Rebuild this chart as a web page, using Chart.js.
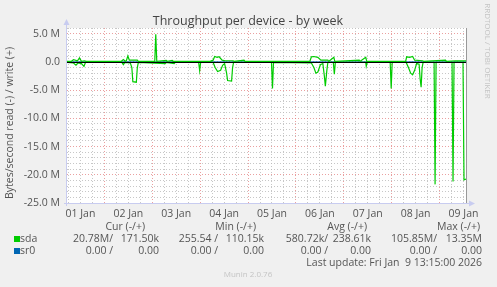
<!DOCTYPE html>
<html>
<head>
<meta charset="utf-8">
<script src="https://cdn.jsdelivr.net/npm/chart.js@4"></script>
<style>
  html, body { margin: 0; padding: 0; background: #f0f0f0; }
  #wrap { width: 497px; height: 287px; }
</style>
</head>
<body>
<div id="wrap"><canvas id="grafico" width="497" height="287"></canvas></div>
<script>
// horas contadas desde 01 Jan 00:00, valores em MB/s
const inicio = 5.25
const fim = 205.25
const diasLabels = ['01 Jan', '02 Jan', '03 Jan', '04 Jan', '05 Jan', '06 Jan', '07 Jan', '08 Jan', '09 Jan']

// sda escrita (+)
const escritaHoras = [5.25, 7.5, 8.5, 10.5, 11.5, 12.5, 14, 15, 32.5, 33.5, 34.5, 35, 35.75, 36.5, 37, 40.5, 41,
  49.25, 49.75, 50.25, 55, 55.5, 58, 58.5, 77, 78.5, 79.25, 80.5, 81.5, 83, 84.5, 88.5, 89, 94, 94.5, 95,
  127, 127.75, 129, 131, 132.5, 136, 136.5, 139, 139.5, 140, 151.75, 152.25, 155, 155.5, 175, 175.5, 177,
  178.5, 179.5, 183.5, 184, 195, 195.5, 200, 205.25]
const escritaValores = [0.1, 0.1, 0.4, 0.2, 0.7, 0.1, 0.2, 0.1, 0.1, 0.4, 0.1, 0.2, 1.05, 0.3, 0.3, 0.3, 0.1,
  0.1, 4.9, 0.1, 0.25, 0.1, 0.25, 0.1, 0.1, 0.3, 0.95, 0.8, 0.9, 0.3, 0.2, 0.2, 0.1, 0.3, 0.1, 0.1,
  0.1, 0.9, 0.95, 0.8, 0.3, 0.3, 0.1, 0.8, 0.1, 0.1, 0.3, 0.1, 0.8, 0.1, 0.1, 0.9, 0.8,
  0.95, 0.3, 0.2, 0.1, 0.3, 0.1, 0.2, 0.17]

// sda leitura (-)
const leituraHoras = [5.25, 8.5, 9.75, 10.75, 12.5, 13.75, 14.5, 32.75, 33.5, 34.25, 37, 37.75, 38.25, 40, 40.5, 41,
  54.5, 55, 59, 59.5, 71.25, 71.75, 72.25, 78.5, 79.5, 80.75, 82.25, 83.25, 84.25, 85.25, 85.75, 87.75, 88.25, 88.75,
  107.75, 108.25, 108.75, 127.75, 129, 130, 131, 132.25, 133.5, 134.25, 134.75, 135.5, 136,
  138.75, 139.25, 139.75, 155, 155.25, 155.75, 167.25, 167.75, 168.25, 175.25, 176.5, 177.5, 178.5, 179.5, 180.5,
  181.75, 182.25, 182.75, 183.25, 183.75, 189.25, 189.75, 190.25, 198.25, 198.75, 199.25, 203.75, 204.25, 205.25]
const leituraValores = [-0.1, -0.2, -0.6, -0.2, -0.3, -0.8, -0.1, -0.1, -0.5, -0.1, -0.2, -1.0, -3.5, -3.6, -1.0, -0.1,
  -0.3, -0.1, -0.3, -0.1, -0.1, -1.55, -0.1, -0.1, -1.0, -1.7, -1.5, -0.6, -0.3, -2.0, -3.3, -3.4, -1.0, -0.1,
  -0.1, -4.7, -0.1, -0.2, -1.0, -2.0, -1.8, -0.5, -0.3, -2.5, -4.3, -1.5, -0.1,
  -0.1, -2.2, -0.1, -0.1, -0.8, -0.1, -0.1, -4.7, -0.1, -0.1, -1.1, -2.0, -2.3, -1.5, -0.3,
  -0.4, -3.0, -4.5, -1.0, -0.1, -0.1, -21.7, -0.1, -0.1, -21.2, -0.1, -0.1, -20.9, -20.78]

// sr0 parado
const sr0Horas = [5.25, 205.25]
const sr0Valores = [0, 0]

// legenda
const cabecalhos = ['Cur (-/+)', 'Min (-/+)', 'Avg (-/+)', 'Max (-/+)']
const sdaStats = [['20.78M/', '171.50k'], ['255.54 /', '110.15k'], ['580.72k/', '238.61k'], ['105.85M/', '13.35M']]
const sr0Stats = [['0.00 /', '0.00'], ['0.00 /', '0.00'], ['0.00 /', '0.00'], ['0.00 /', '0.00']]
const ultimaAtualizacao = 'Last update: Fri Jan  9 13:15:00 2026'

const VERDE = '#00cc00'
const AZUL = '#0066b3'
const FONTE = '"Open Sans", "Noto Sans", sans-serif'

function pontos(horas, valores) {
    return horas.map((h, i) => ({ x: h, y: valores[i] }))
}

// desenha textos, fundo branco, eixos e legenda no estilo munin
const estiloMunin = {
    id: 'estiloMunin',
    beforeDraw(chart) {
        const { ctx, chartArea: a } = chart
        ctx.save()
        ctx.fillStyle = '#f0f0f0'
        ctx.fillRect(0, 0, chart.width, chart.height)
        ctx.fillStyle = '#ffffff'
        ctx.fillRect(a.left, a.top, a.right - a.left, a.bottom - a.top)
        ctx.restore()
    },
    afterDatasetsDraw(chart) {
        const { ctx, chartArea: a, scales } = chart
        const y0 = Math.round(scales.y.getPixelForValue(0)) + 0.5
        ctx.save()
        // linha do zero
        ctx.strokeStyle = '#000000'
        ctx.lineWidth = 1
        ctx.beginPath()
        ctx.moveTo(a.left, y0)
        ctx.lineTo(a.right, y0)
        ctx.stroke()
        // borda direita
        ctx.strokeStyle = '#999999'
        ctx.beginPath()
        ctx.moveTo(a.right + 0.5, a.top)
        ctx.lineTo(a.right + 0.5, a.bottom)
        ctx.stroke()
        // eixos com setas
        ctx.strokeStyle = '#c8ccf0'
        ctx.fillStyle = '#c8ccf0'
        ctx.beginPath()
        ctx.moveTo(a.left - 0.5, a.bottom + 3)
        ctx.lineTo(a.left - 0.5, a.top - 4)
        ctx.moveTo(a.left - 3, a.bottom + 0.5)
        ctx.lineTo(a.right + 4, a.bottom + 0.5)
        ctx.stroke()
        ctx.beginPath()
        ctx.moveTo(a.left - 3.5, a.top - 3)
        ctx.lineTo(a.left + 2.5, a.top - 3)
        ctx.lineTo(a.left - 0.5, a.top - 9)
        ctx.fill()
        ctx.beginPath()
        ctx.moveTo(a.right + 3, a.bottom - 2.5)
        ctx.lineTo(a.right + 3, a.bottom + 3.5)
        ctx.lineTo(a.right + 9, a.bottom + 0.5)
        ctx.fill()
        ctx.restore()
    },
    afterDraw(chart) {
        const { ctx } = chart
        ctx.save()
        ctx.textBaseline = 'middle'

        // titulo
        ctx.fillStyle = '#444444'
        ctx.font = '12.5px ' + FONTE
        ctx.textAlign = 'center'
        ctx.fillText('Throughput per device - by week', 248, 21)

        // titulo do eixo y
        ctx.fillStyle = '#555555'
        ctx.font = '10.5px ' + FONTE
        ctx.save()
        ctx.translate(10, 123)
        ctx.rotate(-Math.PI / 2)
        ctx.fillText('Bytes/second read (-) / write (+)', 0, 0)
        ctx.restore()

        // marca rrdtool
        ctx.save()
        ctx.fillStyle = '#c4c4c4'
        ctx.font = '8px ' + FONTE
        ctx.translate(487, 51)
        ctx.rotate(Math.PI / 2)
        ctx.fillText('RRDTOOL / TOBI OETIKER', 0, 0)
        ctx.restore()

        // legenda
        ctx.fillStyle = '#555555'
        ctx.font = '10.5px ' + FONTE
        ctx.textAlign = 'right'
        const dirCab = [145, 256, 367, 480]
        cabecalhos.forEach((t, i) => ctx.fillText(t, dirCab[i], 227))

        const dirA = [113, 218, 328, 437]
        const dirB = [159, 264, 371, 482]
        const linhas = [[sdaStats, 'sda', VERDE, 239], [sr0Stats, 'sr0', AZUL, 251]]
        linhas.forEach(([stats, nome, cor, y]) => {
            ctx.fillStyle = cor
            ctx.fillRect(14, y - 3, 6, 6)
            ctx.fillStyle = '#555555'
            ctx.textAlign = 'left'
            ctx.fillText(nome, 20, y)
            ctx.textAlign = 'right'
            stats.forEach((s, i) => {
                ctx.fillText(s[0], dirA[i], y)
                ctx.fillText(s[1], dirB[i], y)
            })
        })
        ctx.fillText(ultimaAtualizacao, 482, 263)

        ctx.fillStyle = '#c4c4c4'
        ctx.font = '8px ' + FONTE
        ctx.textAlign = 'center'
        ctx.fillText('Munin 2.0.76', 248, 275)
        ctx.restore()
    }
}

const grade = (major) => (c) => (c.tick && major(c.tick.value)) ? 'rgba(225, 120, 120, 0.7)' : 'rgba(185, 185, 185, 0.8)'

new Chart(document.getElementById('grafico'), {
    type: 'line',
    data: {
        datasets: [{
            label: 'sda read',
            data: pontos(leituraHoras, leituraValores),
            borderColor: VERDE,
            borderWidth: 1.2
        },
        {
            label: 'sda write',
            data: pontos(escritaHoras, escritaValores),
            borderColor: VERDE,
            borderWidth: 1.2
        },
        {
            label: 'sr0',
            data: pontos(sr0Horas, sr0Valores),
            borderColor: AZUL,
            borderWidth: 1
        }]
    },
    options: {
        responsive: false,
        animation: false,
        devicePixelRatio: 1,
        elements: { point: { radius: 0 }, line: { tension: 0 } },
        layout: { padding: { left: 0, right: 31, top: 28, bottom: 62 } },
        plugins: { legend: { display: false }, tooltip: { enabled: false } },
        scales: {
            x: {
                type: 'linear',
                min: inicio,
                max: fim,
                afterFit: (s) => { s.height = 22 },
                grid: { drawTicks: false, color: grade((v) => v % 24 === 0), lineWidth: 1 },
                border: { display: false, dash: [1, 2] },
                ticks: {
                    stepSize: 6,
                    includeBounds: false,
                    autoSkip: false,
                    maxRotation: 0,
                    padding: 5,
                    color: '#555555',
                    font: { family: FONTE, size: 10.5 },
                    callback: (v) => ((v - 12) % 24 === 0 ? diasLabels[(v - 12) / 24] : '')
                }
            },
            y: {
                min: -25,
                max: 6,
                afterFit: (s) => { s.width = 67 },
                grid: { drawTicks: false, color: grade((v) => v % 5 === 0) },
                border: { display: false, dash: [1, 2] },
                ticks: {
                    stepSize: 1,
                    autoSkip: false,
                    padding: 7,
                    color: '#555555',
                    font: { family: FONTE, size: 10.5 },
                    callback: (v) => (v % 5 === 0 ? (v === 0 ? '0.0' : v.toFixed(1) + ' M') : '')
                }
            }
        }
    },
    plugins: [estiloMunin]
})
</script>
</body>
</html>
